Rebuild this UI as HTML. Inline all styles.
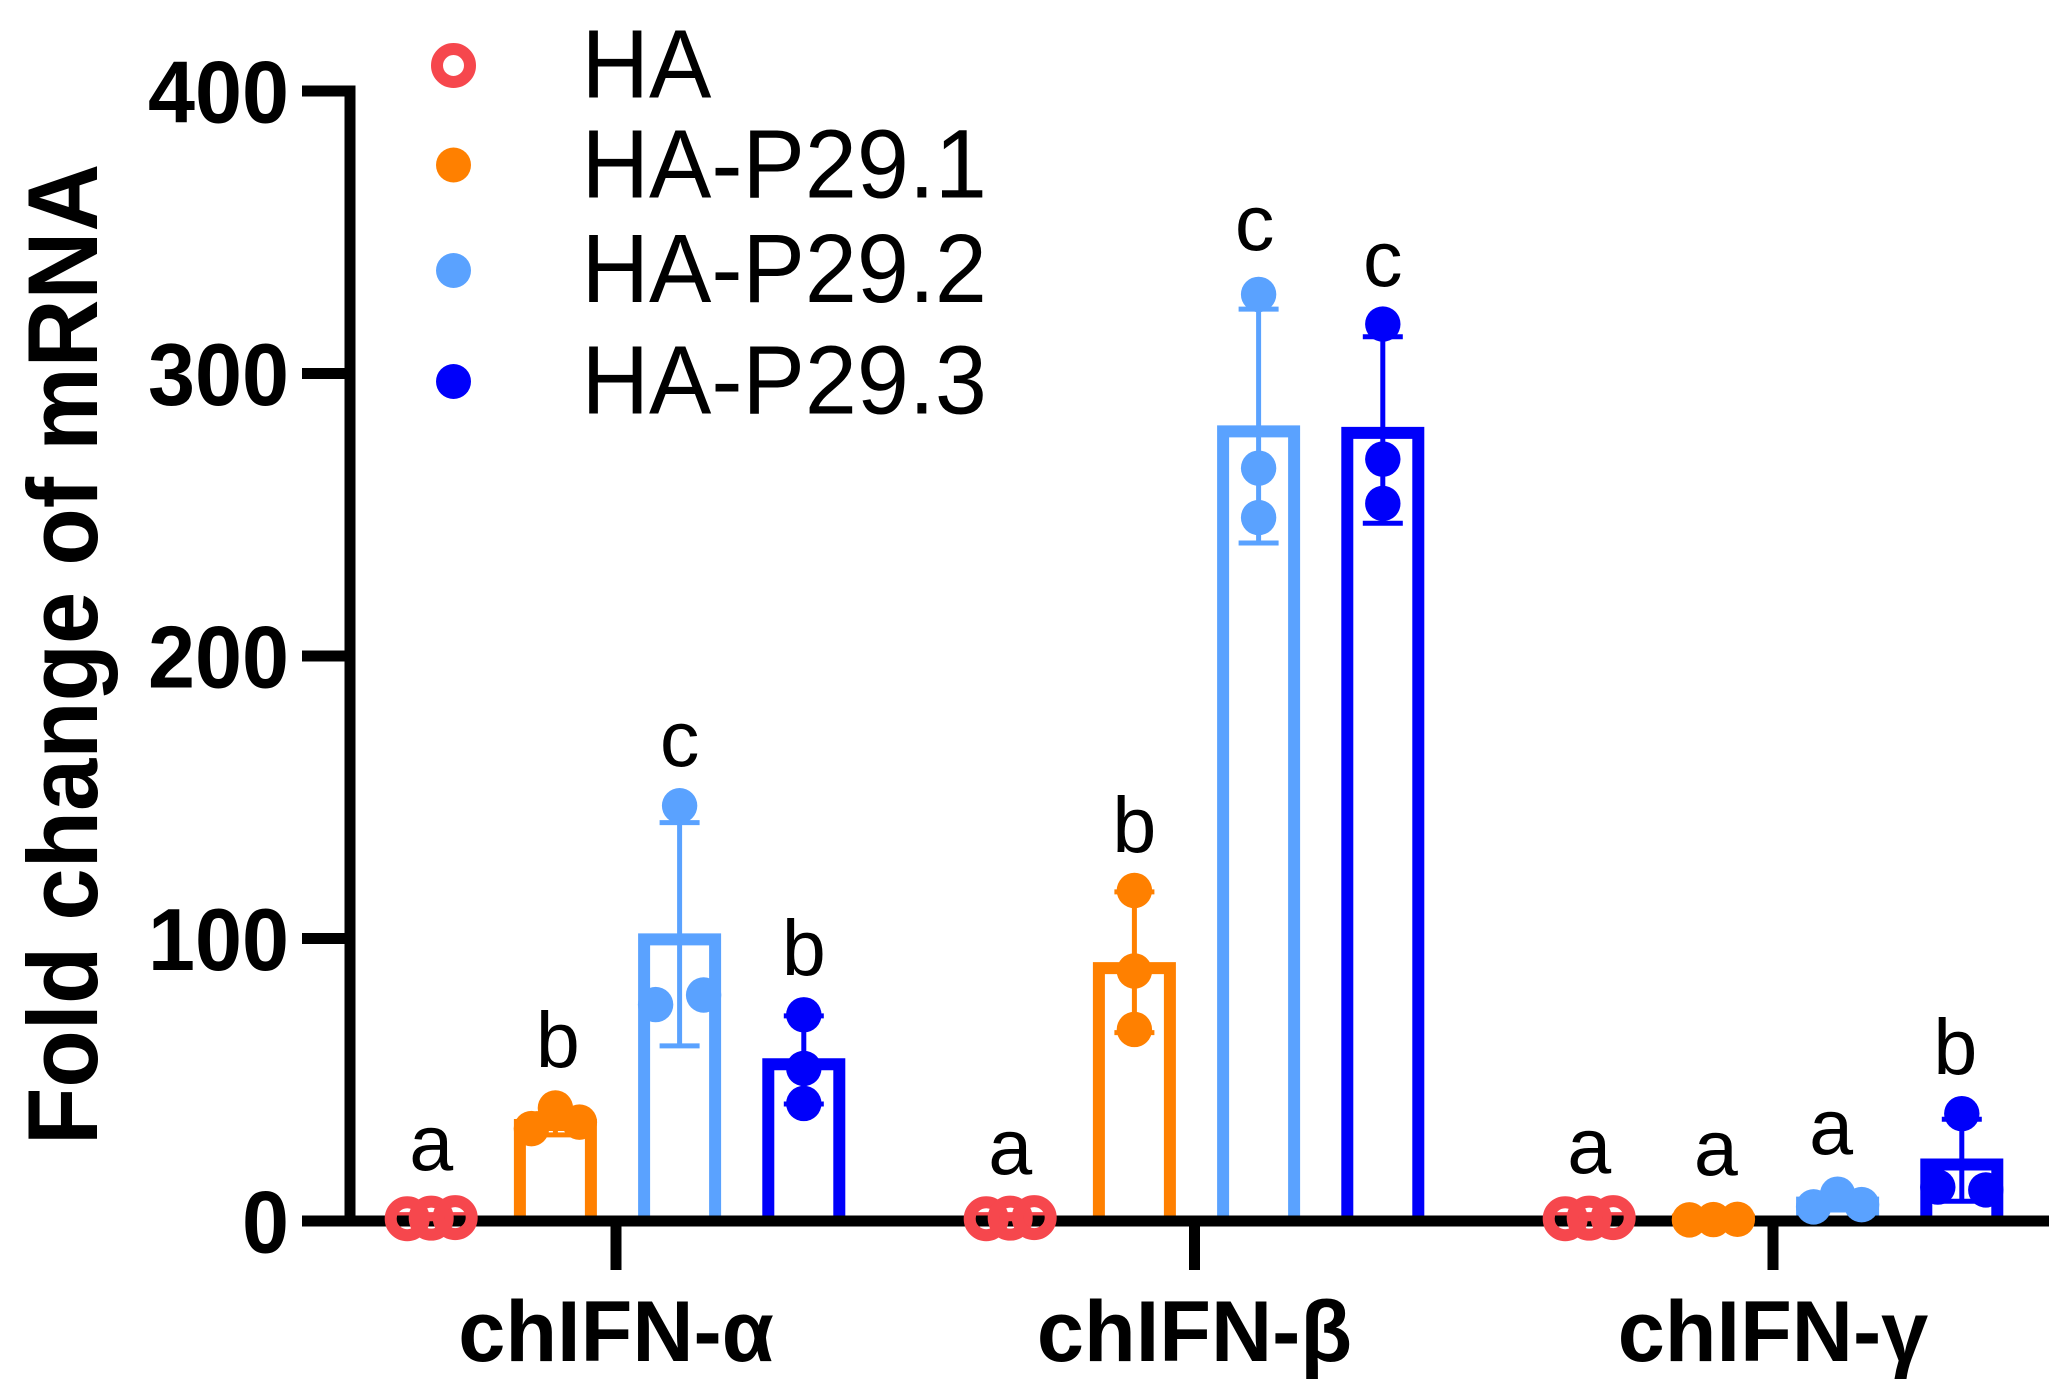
<!DOCTYPE html>
<html lang="en">
<head>
<meta charset="utf-8">
<title>Fold change of mRNA</title>
<style>
  html, body { margin: 0; padding: 0; background: #fff; }
  svg { display: block; font-family: "Liberation Sans", sans-serif; fill: #000; }
  .series-0 { --c: #f6474d; }
  .series-1 { --c: #ff8000; }
  .series-2 { --c: #5aa2ff; }
  .series-3 { --c: #0000fa; }
  .bar { fill: none; stroke: var(--c); stroke-width: 12; stroke-linejoin: miter; }
  .err { fill: none; stroke: var(--c); stroke-width: 5; }
  .dot { fill: var(--c); }
  .dot-open { fill: none; stroke: var(--c); stroke-width: 12; }
  .axis { stroke: #000; stroke-width: 11; fill: none; }
  .bold { font-weight: 700; }
</style>
</head>
<body>
<svg id="chart" xmlns="http://www.w3.org/2000/svg" width="2068" height="1399" viewBox="0 0 2068 1399">
  <rect x="0" y="0" width="2068" height="1399" fill="#ffffff"/>
  <g id="bars"></g>
  <g id="axes"></g>
  <g id="marks"></g>
  <g id="labels"></g>
  <text class="bold" font-size="99" transform="translate(97,1145) rotate(-90) scale(0.949,1)">Fold change of mRNA</text>
  <g>
    <g>
      <circle class="series-0 dot-open" cx="453.5" cy="65.5" r="16.5"/>
      <text font-size="97" transform="translate(581.5,97.3) scale(0.964,1)">HA</text>
    </g>
    <g>
      <circle class="series-1 dot" cx="453.5" cy="165" r="17.5"/>
      <text font-size="97" transform="translate(581.5,197.3) scale(0.964,1)">HA-P29.1</text>
    </g>
    <g>
      <circle class="series-2 dot" cx="453.5" cy="270.5" r="17.5"/>
      <text font-size="97" transform="translate(581.5,302) scale(0.964,1)">HA-P29.2</text>
    </g>
    <g>
      <circle class="series-3 dot" cx="453.5" cy="381.5" r="17.5"/>
      <text font-size="97" transform="translate(581.5,413.4) scale(0.964,1)">HA-P29.3</text>
    </g>
  </g>
</svg>
<script>
// Data
const categories = ['chIFN-\u03B1', 'chIFN-\u03B2', 'chIFN-\u03B3'];
const seriesNames = ['HA', 'HA-P29.1', 'HA-P29.2', 'HA-P29.3'];
const tickValues = [0, 100, 200, 300, 400];
const tickLabels = ['0', '100', '200', '300', '400'];

const meansHA = [1, 1, 1];
const meansP291 = [34, 89.5, 0.5];
const meansP292 = [99.7, 279.5, 6.5];
const meansP293 = [55.5, 279, 20];

const errHighHA = [1.2, 1.2, 1.2];
const errHighP291 = [38, 116.5, 0.7];
const errHighP292 = [141, 322.8, 9];
const errHighP293 = [72.6, 313, 36];

const errLowHA = [0.8, 0.8, 0.8];
const errLowP291 = [30.5, 66.7, 0.3];
const errLowP292 = [62, 240, 3.9];
const errLowP293 = [41.4, 247, 7];

const pointsHA = [[0.8, 1, 1.2], [0.8, 1, 1.2], [0.8, 1, 1.2]];
const pointsP291 = [[32.7, 40, 35], [117, 88.5, 67.8], [0.4, 0.5, 0.6]];
const pointsP292 = [[147, 76.6, 80], [328, 266.5, 249], [5, 9.5, 5.8]];
const pointsP293 = [[73, 54, 41.6], [317.5, 269.7, 254], [38, 12, 11]];

const lettersHA = ['a', 'a', 'a'];
const lettersP291 = ['b', 'b', 'a'];
const lettersP292 = ['c', 'c', 'a'];
const lettersP293 = ['b', 'c', 'b'];

// Height on the y scale at which each significance letter sits
const letterLevelsHA = [18, 16.6, 17];
const letterLevelsP291 = [54.5, 130.6, 16.3];
const letterLevelsP292 = [161, 343.7, 23.7];
const letterLevelsP293 = [87, 331, 52];

const allMeans = [meansHA, meansP291, meansP292, meansP293];
const allErrHigh = [errHighHA, errHighP291, errHighP292, errHighP293];
const allErrLow = [errLowHA, errLowP291, errLowP292, errLowP293];
const allPoints = [pointsHA, pointsP291, pointsP292, pointsP293];
const allLetters = [lettersHA, lettersP291, lettersP292, lettersP293];
const allLetterLevels = [letterLevelsHA, letterLevelsP291, letterLevelsP292, letterLevelsP293];

// Axis functions and layout constants
const SVG_NS = 'http://www.w3.org/2000/svg';
const Y0 = 1221;
const PX_PER_UNIT = 2.825;
const GROUP0 = 617.5;
const GROUP_STEP = 579;
const TICK0 = 616;
const TICK_STEP = 578.5;
const BAR_STEP = 124.2;
const BAR_WIDTH = 71;
const CAP_HALF = 20;
const DOT_R = 17.7;
const OPEN_R = 16.5;
const SWARM_DX = 24;
// Hand-placed annotation nudges (layout only), keyed by series and category
const LETTER_NUDGE = { '1-0': 2.5, '2-1': -4, '1-2': 2.5, '2-2': -6.5, '3-2': -6.5 };

function y(v) { return Y0 - v * PX_PER_UNIT; }
function groupX(g) { return GROUP0 + g * GROUP_STEP; }
function tickX(g) { return TICK0 + g * TICK_STEP; }
function barX(g, s) { return groupX(g) + (s - 1.5) * BAR_STEP; }

function make(tag, attrs, parent) {
  const n = document.createElementNS(SVG_NS, tag);
  for (const k in attrs) n.setAttribute(k, attrs[k]);
  parent.appendChild(n);
  return n;
}

// Prism-style swarm: points that would overlap are spread sideways
function swarmOffsets(vals) {
  const order = vals.map((v, i) => i).sort((a, b) => vals[b] - vals[a]);
  const offsets = vals.map(() => 0);
  let i = 0;
  while (i < order.length) {
    let j = i + 1;
    while (j < order.length && (vals[order[j - 1]] - vals[order[j]]) * PX_PER_UNIT < 30) j++;
    const members = order.slice(i, j).sort((a, b) => a - b);
    members.forEach((m, k) => {
      offsets[m] = (k - (members.length - 1) / 2) * SWARM_DX * (members.length === 2 ? 2 : 1);
    });
    i = j;
  }
  return offsets;
}

const barsG = document.getElementById('bars');
const axesG = document.getElementById('axes');
const marksG = document.getElementById('marks');
const labelsG = document.getElementById('labels');

// Axes
const yAxisLine = make('line', { class: 'axis', x1: 350, x2: 350, y1: y(400) - 5.5, y2: y(0) + 5.5 }, axesG);


const xAxisLine = make('line', { class: 'axis', x1: 302, x2: 2049, y1: y(0), y2: y(0) }, axesG);



tickValues.forEach((v, i) => {
  const tick = make('line', { class: 'axis', x1: 302, x2: 350, y1: y(v), y2: y(v) }, axesG);
  
  
  const label = make('text', {
    class: 'bold', 'font-size': 88, 'text-anchor': 'end',
    transform: 'translate(289,' + (y(v) + 31.5) + ') scale(0.96,1)'
  }, axesG);
  
  
  label.textContent = tickLabels[i];
});

categories.forEach((c, g) => {
  const tick = make('line', { class: 'axis', x1: tickX(g), x2: tickX(g), y1: y(0), y2: 1270 }, axesG);
  
  
  const label = make('text', {
    class: 'bold', 'font-size': 86, 'text-anchor': 'middle',
    transform: 'translate(' + tickX(g) + ',1361) scale(0.985,1)'
  }, axesG);
  
  
  label.textContent = c;
});

// Series
seriesNames.forEach((name, s) => {
  categories.forEach((cat, g) => {
    const cx = barX(g, s);
    const mean = allMeans[s][g];
    const high = allErrHigh[s][g];
    const low = allErrLow[s][g];
    const pts = allPoints[s][g];

    const left = cx - BAR_WIDTH / 2;
    const right = cx + BAR_WIDTH / 2;
    const bar = make('path', {
      class: 'bar series-' + s,
      d: 'M' + left + ' ' + y(0) + 'V' + y(mean) + 'H' + right + 'V' + y(0)
    }, barsG);
    
    

    const err = make('path', {
      class: 'err series-' + s,
      d: 'M' + cx + ' ' + y(high) + 'V' + y(low) +
         'M' + (cx - CAP_HALF) + ' ' + y(high) + 'H' + (cx + CAP_HALF) +
         'M' + (cx - CAP_HALF) + ' ' + y(low) + 'H' + (cx + CAP_HALF)
    }, marksG);
    
    

    const offsets = swarmOffsets(pts);
    pts.forEach((v, k) => {
      const dot = make('circle', {
        class: (s === 0 ? 'dot-open' : 'dot') + ' series-' + s,
        cx: cx + offsets[k], cy: y(v), r: s === 0 ? OPEN_R : DOT_R
      }, marksG);
      
      
    });

    const letter = make('text', {
      'font-size': 79, 'text-anchor': 'middle',
      x: cx + (LETTER_NUDGE[s + '-' + g] || 0), y: y(allLetterLevels[s][g])
    }, labelsG);
    
    
    letter.textContent = allLetters[s][g];
  });
});
</script>
</body>
</html>
